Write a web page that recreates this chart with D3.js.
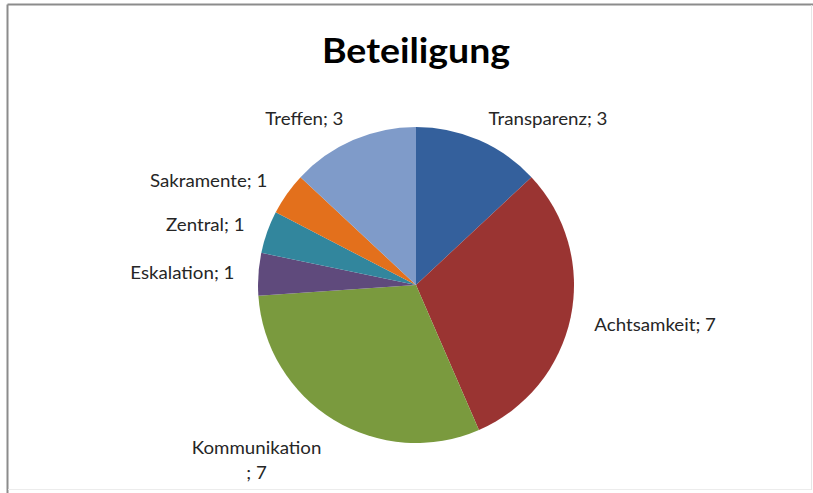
<!DOCTYPE html>
<html lang="de">
<head>
    <meta charset="UTF-8">
    <title>Beteiligung</title>
    <style>
        * { margin: 0; padding: 0; }
        body { background: #fff; }
        svg { display: block; font-family: Lato, "Open Sans", sans-serif; }
    </style>
    <script src="https://cdn.jsdelivr.net/npm/d3@7"></script>
</head>
<body>
    <div id="chart"></div>
    <script>
        // data
        var names  = ['Transparenz', 'Achtsamkeit', 'Kommunikation', 'Eskalation', 'Zentral', 'Sakramente', 'Treffen'];
        var values = [3, 7, 7, 1, 1, 1, 3];
        var colors = ['#34609c', '#9a3432', '#7a9a3e', '#5f4a7c', '#32869d', '#e3701c', '#7f9bc9'];

        var w = 813,
            h = 493,
            cx = 416,
            cy = 285,
            radius = 158,
            labelR = 182,
            sx = 1.1;   // the reference text is a bit wider than Lato

        var svg = d3.select('#chart')
                    .append('svg')
                    .attr('width', w)
                    .attr('height', h);

        // frame of the chart area (cut at right/bottom)
        svg.append('line').attr('x1', 7.5).attr('y1', 4.5).attr('x2', w).attr('y2', 4.5)
            .attr('stroke', '#8c8c8c').attr('stroke-width', 2);
        svg.append('line').attr('x1', 7.5).attr('y1', 4.5).attr('x2', 7.5).attr('y2', h)
            .attr('stroke', '#8c8c8c').attr('stroke-width', 2);
        svg.append('line').attr('x1', 811.5).attr('y1', 5).attr('x2', 811.5).attr('y2', 490)
            .attr('stroke', '#e6e6e6').attr('stroke-width', 1);
        svg.append('line').attr('x1', 8).attr('y1', 489.5).attr('x2', 811).attr('y2', 489.5)
            .attr('stroke', '#ececec').attr('stroke-width', 1);

        svg.append('text')
            .attr('transform', 'translate(416,63) scale(1.07,1)')
            .attr('text-anchor', 'middle')
            .style('font-size', '35px')
            .style('font-weight', 'bold')
            .style('fill', '#000')
            .text('Beteiligung');

        var datas = names.map((n, i) => ({ name: n, value: values[i], color: colors[i] }));

        var pie = d3.pie().sort(null).value(d => d.value);
        var arc = d3.arc().innerRadius(0).outerRadius(radius);
        var arcs = pie(datas);

        var g = svg.append('g').attr('transform', 'translate(' + cx + ',' + cy + ')');

        g.selectAll('path')
            .data(arcs)
            .enter()
            .append('path')
            .attr('d', arc)
            .attr('fill', d => d.data.color);

        // labels, placed outside like excel's "best fit"
        arcs.forEach(function (d) {
            var a = (d.startAngle + d.endAngle) / 2;
            var px = labelR * Math.sin(a),
                py = -labelR * Math.cos(a);
            var lines = d.data.name.length > 12
                ? [d.data.name, '; ' + d.data.value]
                : [d.data.name + '; ' + d.data.value];

            var t = g.append('text')
                .attr('text-anchor', 'middle')
                .style('font-size', '17px')
                .style('fill', '#262626');
            lines.forEach(function (l, i) {
                t.append('tspan').attr('x', 0).attr('dy', i === 0 ? 0 : 25).text(l);
            });

            var bb = t.node().getBBox();
            var bw = bb.width * sx;
            var bx = Math.sin(a) >= 0 ? px + bw / 2 : px - bw / 2;
            var centerY = py + Math.max(0, -Math.cos(a)) * bb.height / 2;
            var by = centerY - (bb.y + bb.height / 2);
            t.attr('transform', 'translate(' + bx + ',' + by + ') scale(' + sx + ',1)');
        });
    </script>
</body>
</html>
